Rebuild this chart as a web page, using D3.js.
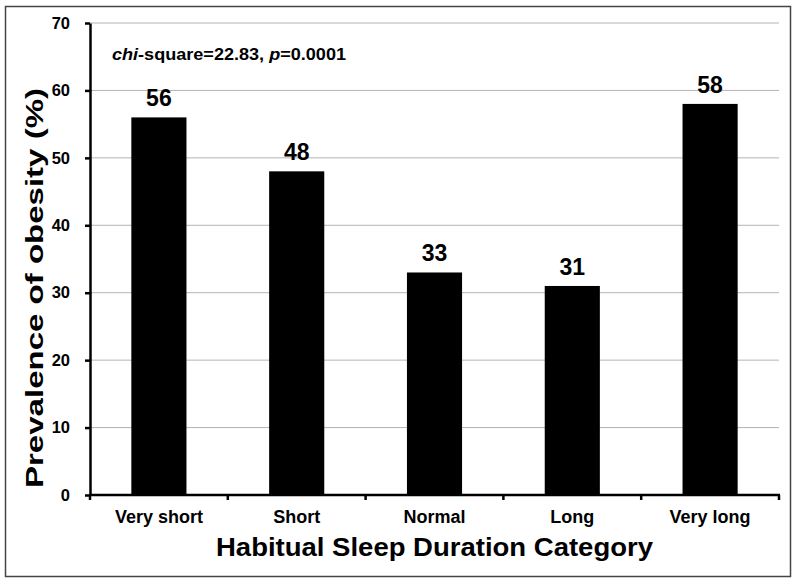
<!DOCTYPE html>
<html>
<head>
<meta charset="utf-8">
<script src="https://cdn.jsdelivr.net/npm/d3@7"></script>
<style>
  html, body { margin: 0; padding: 0; background: #fff; }
  svg { display: block; font-family: Arial, "Liberation Sans", sans-serif; }
</style>
</head>
<body>
<svg id="chart" width="800" height="585"></svg>
<script>
// data
const categories = ["Very short", "Short", "Normal", "Long", "Very long"];
const prevalence = [56, 48, 33, 31, 58];
const yTicks = [0, 10, 20, 30, 40, 50, 60, 70];

const svg = d3.select("#chart");

// outer frame
svg.append("rect")
  .attr("x", 5.5).attr("y", 6.5)
  .attr("width", 785).attr("height", 570)
  .attr("fill", "none")
  .attr("stroke", "#444")
  .attr("stroke-width", 1.5);

const plot = { left: 90, right: 779, top: 23, bottom: 495 };

const x = d3.scaleBand()
  .domain(categories)
  .range([plot.left, plot.right])
  .paddingInner(0.6)
  .paddingOuter(0.3);

const y = d3.scaleLinear()
  .domain([0, 70])
  .range([plot.bottom, plot.top]);

// gridlines
svg.append("g")
  .selectAll("line")
  .data(yTicks.filter(d => d > 0))
  .enter().append("line")
  .attr("x1", plot.left).attr("x2", plot.right)
  .attr("y1", d => y(d)).attr("y2", d => y(d))
  .attr("stroke", "#b4b4b4")
  .attr("stroke-width", 1);

// bars
svg.append("g")
  .selectAll("rect")
  .data(categories)
  .enter().append("rect")
  .attr("x", d => x(d))
  .attr("y", (d, i) => y(prevalence[i]))
  .attr("width", x.bandwidth())
  .attr("height", (d, i) => y(0) - y(prevalence[i]))
  .attr("fill", "#000");

// value labels
svg.append("g")
  .selectAll("text")
  .data(categories)
  .enter().append("text")
  .attr("x", d => x(d) + x.bandwidth() / 2)
  .attr("y", (d, i) => y(prevalence[i]) - 11)
  .attr("text-anchor", "middle")
  .style("font-size", "23px")
  .style("font-weight", "bold")
  .text((d, i) => prevalence[i]);

// y axis
const yAxis = svg.append("g")
  .attr("transform", `translate(${plot.left},0)`)
  .call(d3.axisLeft(y).tickValues(yTicks).tickSize(5).tickPadding(15).tickSizeOuter(0));
yAxis.select(".domain").attr("stroke", "#000").attr("stroke-width", 2.5);
yAxis.selectAll(".tick line").attr("stroke", "#000").attr("stroke-width", 2.5);
yAxis.selectAll("text")
  .style("font-size", "16.5px")
  .style("font-weight", "bold")
  .attr("fill", "#000");

// x axis: ticks at category boundaries
const bounds = d3.range(categories.length + 1).map(i => plot.left + i * x.step());
svg.append("line")
  .attr("x1", plot.left - 1).attr("x2", plot.right + 1)
  .attr("y1", plot.bottom).attr("y2", plot.bottom)
  .attr("stroke", "#000").attr("stroke-width", 2.5);
svg.append("g")
  .selectAll("line")
  .data(bounds)
  .enter().append("line")
  .attr("x1", d => d).attr("x2", d => d)
  .attr("y1", plot.bottom).attr("y2", plot.bottom + 5)
  .attr("stroke", "#000").attr("stroke-width", 2.5);
svg.append("g")
  .selectAll("text")
  .data(categories)
  .enter().append("text")
  .attr("x", d => x(d) + x.bandwidth() / 2)
  .attr("y", 523)
  .attr("text-anchor", "middle")
  .style("font-size", "18px")
  .style("font-weight", "bold")
  .text(d => d);

// axis titles
svg.append("text")
  .attr("x", (plot.left + plot.right) / 2)
  .attr("y", 556)
  .attr("text-anchor", "middle")
  .attr("textLength", 437)
  .attr("lengthAdjust", "spacingAndGlyphs")
  .style("font-size", "26px")
  .style("font-weight", "bold")
  .text("Habitual Sleep Duration Category");

svg.append("text")
  .attr("transform", "translate(43,288) rotate(-90)")
  .attr("text-anchor", "middle")
  .attr("textLength", 400)
  .attr("lengthAdjust", "spacingAndGlyphs")
  .style("font-size", "23px")
  .style("font-weight", "bold")
  .text("Prevalence of obesity (%)");

// statistic annotation
const note = svg.append("text")
  .attr("x", 112).attr("y", 60)
  .attr("textLength", 234)
  .attr("lengthAdjust", "spacingAndGlyphs")
  .style("font-size", "17px")
  .style("font-weight", "bold");
note.append("tspan").style("font-style", "italic").text("chi");
note.append("tspan").text("-square=22.83,  ");
note.append("tspan").style("font-style", "italic").text("p");
note.append("tspan").text("=0.0001");
</script>
</body>
</html>
